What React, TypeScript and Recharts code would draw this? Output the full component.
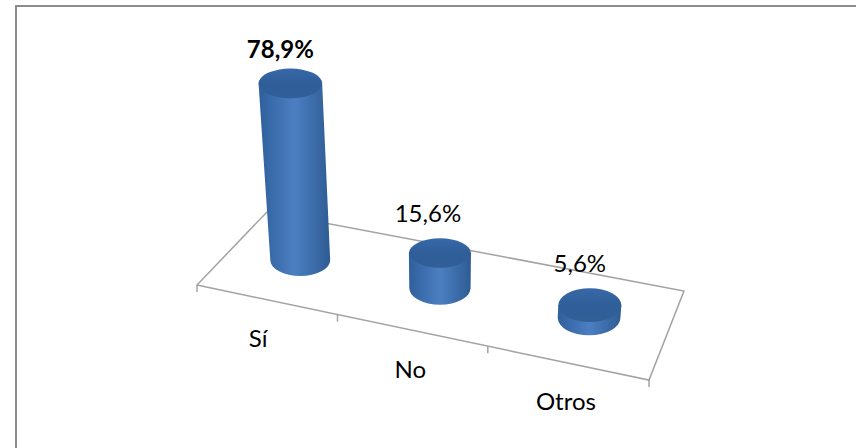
import { Bar, BarChart, Customized, LabelList, XAxis, YAxis } from 'recharts';

const categories = ['Sí', 'No', 'Otros'];
const shares = [78.9, 15.6, 5.6];

const chartData = categories.map((name, i) => ({ name, share: shares[i] }));

const WIDTH = 856;
const HEIGHT = 448;
const PLOT_LEFT = 197;
const PLOT_WIDTH = 452;

// Floor of the 3D plot, as a projective map from the unit square
const FLOOR = { a: 388.4, b: 94.6, c: 197, d: 57.8, e: -53.5, f: 285, g: -0.098, h: 0.0922 };

const floorPoint = (u: number, v: number) => {
  const w = FLOOR.g * u + FLOOR.h * v + 1;
  return {
    x: (FLOOR.a * u + FLOOR.b * v + FLOOR.c) / w,
    y: (FLOOR.d * u + FLOOR.e * v + FLOOR.f) / w,
  };
};

const toU = (x: number) => (x - PLOT_LEFT) / PLOT_WIDTH;

const fmt = (v: number) => `${v.toFixed(1).replace('.', ',')}%`;

// Ellipses of one cylinder, worked out from the rectangle Recharts gives the bar
const cylinder = (x: number, width: number, height: number) => {
  const u = toU(x + width / 2);
  const base = floorPoint(u, 0.5);
  const rx = (width / 2) * (0.97 + u * 0.07);
  const ratio = 0.52 + u * 0.05;
  const ry = rx * ratio;
  // verticals converge slightly towards the bottom of the view
  const topX = base.x + (base.x - 440) * height * 0.0004;
  const topY = base.y - height;
  const topRx = rx * (1 + height * 0.00035);
  const topRy = topRx * Math.max(0.47, ratio - height * 0.002);
  return { base, rx, ry, topX, topY, topRx, topRy };
};

const CylinderBar = (props: any) => {
  const { x, width, height } = props;
  const c = cylinder(x, width, height);
  const side = [
    `M${c.topX - c.topRx},${c.topY}`,
    `L${c.base.x - c.rx},${c.base.y}`,
    `A${c.rx},${c.ry} 0 0 0 ${c.base.x + c.rx},${c.base.y}`,
    `L${c.topX + c.topRx},${c.topY}`,
    'Z',
  ].join(' ');
  return (
    <g>
      <path d={side} fill="url(#cylSide)" />
      <ellipse cx={c.topX} cy={c.topY} rx={c.topRx} ry={c.topRy} fill="url(#cylTop)" />
    </g>
  );
};

// label offsets from the top of each cylinder
const labelShiftX = [-10, -12, -10];
const labelShiftY = [-35, -41, -43];

const ValueLabel = (props: any) => {
  const { x, width, height, value, index } = props;
  const c = cylinder(x, width, height);
  return (
    <text
      x={c.topX + labelShiftX[index]}
      y={c.topY + labelShiftY[index]}
      textAnchor="middle"
      dominantBaseline="central"
      fontFamily="Lato, sans-serif"
      fontSize={24}
      fontWeight={index === 0 ? 700 : 400}
      fill="#000"
    >
      {fmt(value)}
    </text>
  );
};

const CategoryTick = (props: any) => {
  const { x, payload, index } = props;
  const p = floorPoint(toU(x), 0);
  return (
    <text
      x={p.x + (index === 0 ? -8 : -1)}
      y={p.y + 38}
      textAnchor="middle"
      dominantBaseline="central"
      fontFamily="Lato, sans-serif"
      fontSize={24}
      fill="#000"
    >
      {payload.value}
    </text>
  );
};

const FloorGrid = () => {
  const corners = [floorPoint(0, 0), floorPoint(0, 1), floorPoint(1, 1), floorPoint(1, 0)];
  const outline = corners.map((p) => `${p.x},${p.y}`).join(' ');
  const ticks = [0, 1, 2, 3].map((i) => floorPoint(i / categories.length, 0));
  return (
    <g>
      <defs>
        <linearGradient id="cylSide" x1="0" y1="0" x2="1" y2="0">
          <stop offset="0" stopColor="#2f5f9c" />
          <stop offset="0.5" stopColor="#4c7fc2" />
          <stop offset="1" stopColor="#2e5c94" />
        </linearGradient>
        <linearGradient id="cylTop" x1="0" y1="0" x2="0" y2="1">
          <stop offset="0" stopColor="#3768a8" />
          <stop offset="0.5" stopColor="#2f5e98" />
          <stop offset="1" stopColor="#315f98" />
        </linearGradient>
      </defs>
      <polygon points={outline} fill="none" stroke="#a3a3a3" strokeWidth={1.5} />
      {ticks.map((p, i) => (
        <line key={i} x1={p.x} y1={p.y} x2={p.x} y2={p.y + 7} stroke="#a3a3a3" strokeWidth={1.5} />
      ))}
    </g>
  );
};

export default function App() {
  return (
    <div style={{ position: 'absolute', left: 0, top: 0, width: WIDTH, height: HEIGHT, background: '#fff' }}>
      <div
        style={{
          position: 'absolute',
          left: 15,
          top: 5,
          width: WIDTH - 15,
          height: HEIGHT - 5,
          borderLeft: '2px solid #8c8c8c',
          borderTop: '2px solid #8c8c8c',
          boxSizing: 'border-box',
        }}
      />
      <div style={{ position: 'absolute', left: 0, top: 0 }}>
        <BarChart
          width={WIDTH}
          height={HEIGHT}
          data={chartData}
          margin={{ top: 100, right: WIDTH - PLOT_LEFT - PLOT_WIDTH, bottom: 94, left: PLOT_LEFT }}
          barSize={61}
        >
          <Customized component={FloorGrid} />
          <XAxis dataKey="name" axisLine={false} tickLine={false} height={30} tick={<CategoryTick />} interval={0} />
          <YAxis hide domain={[0, 100]} />
          <Bar dataKey="share" shape={<CylinderBar />} isAnimationActive={false}>
            <LabelList dataKey="share" content={<ValueLabel />} />
          </Bar>
        </BarChart>
      </div>
    </div>
  );
}
